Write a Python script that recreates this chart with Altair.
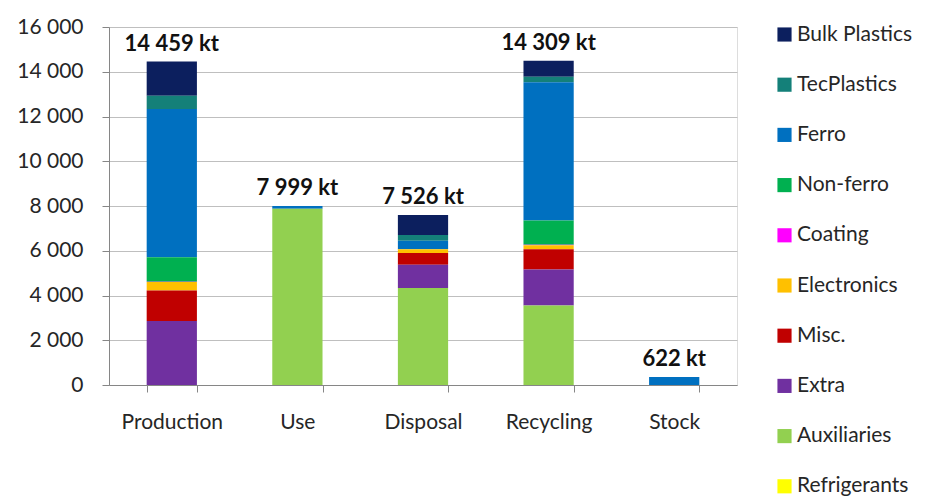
import altair as alt
import pandas as pd

categories = ["Production", "Use", "Disposal", "Recycling", "Stock"]
total_labels = ["14 459 kt", "7 999 kt", "7 526 kt", "14 309 kt", "622 kt"]

materials = ["Bulk Plastics", "TecPlastics", "Ferro", "Non-ferro", "Coating",
             "Electronics", "Misc.", "Extra", "Auxiliaries", "Refrigerants"]
colors = ["#0c1f5e", "#148079", "#0070c0", "#00b050", "#ff00ff",
          "#ffc000", "#c00000", "#7030a0", "#92d050", "#ffff00"]

# values per material for Production, Use, Disposal, Recycling, Stock (kt)
bulk_plastics = [1530, 0, 890, 710, 0]
tec_plastics = [595, 0, 254, 250, 0]
ferro = [6620, 119, 380, 6185, 360]
non_ferro = [1090, 0, 0, 1080, 0]
coating = [20, 0, 0, 20, 0]
electronics = [380, 0, 170, 176, 0]
misc = [1357, 0, 522, 911, 0]
extra = [2863, 0, 1048, 1609, 0]
auxiliaries = [0, 7880, 4330, 3551, 0]
refrigerants = [0, 0, 0, 0, 0]

series = [bulk_plastics, tec_plastics, ferro, non_ferro, coating,
          electronics, misc, extra, auxiliaries, refrigerants]

rows = []
for mi, (m, vals) in enumerate(zip(materials, series)):
    for c, v in zip(categories, vals):
        rows.append({"category": c, "material": m, "value": v,
                     "stack_order": len(materials) - mi})
df = pd.DataFrame(rows)

tot = df.groupby("category", sort=False)["value"].sum().reindex(categories)
df_tot = pd.DataFrame({"category": categories, "total": tot.values,
                       "label": total_labels})

FONT = "Lato"

x_enc = alt.X("category:N", sort=categories, title=None,
              scale=alt.Scale(paddingInner=0.6, paddingOuter=0.3),
              axis=alt.Axis(labelAngle=0, labelFontSize=21, labelColor="#262626",
                            labelFont=FONT, tickBand="extent", tickSize=7,
                            tickColor="#868686", domainColor="#868686",
                            labelPadding=19, grid=False))

bars = alt.Chart(df).mark_bar().encode(
    x=x_enc,
    y=alt.Y("sum(value):Q", title=None,
            scale=alt.Scale(domain=[0, 16000], nice=False),
            axis=alt.Axis(values=list(range(0, 16001, 2000)),
                          labelExpr="replace(format(datum.value, ','), ',', ' ')",
                          labelFontSize=21, labelColor="#262626", labelFont=FONT,
                          tickSize=7, tickColor="#868686", domainColor="#868686",
                          labelPadding=19, gridColor="#bfbfbf", gridWidth=1)),
    color=alt.Color("material:N",
                    scale=alt.Scale(domain=materials, range=colors),
                    legend=alt.Legend(title=None, orient="none", legendX=665,
                                      legendY=-3, symbolType="square",
                                      symbolSize=200, symbolStrokeWidth=0,
                                      labelFontSize=21, labelFont=FONT,
                                      labelColor="#262626", rowPadding=28.2,
                                      labelOffset=2)),
    order=alt.Order("stack_order:Q", sort="ascending"),
)

texts = alt.Chart(df_tot).mark_text(
    baseline="bottom", dy=-6, fontSize=22, fontWeight="bold", font=FONT,
    color="#111111"
).encode(
    x=alt.X("category:N", sort=categories),
    y=alt.Y("total:Q"),
    text="label:N",
)

chart = alt.layer(bars, texts).properties(
    width=628, height=358,
    autosize=alt.AutoSizeParams(type="none"),
    padding={"left": 109, "top": 27, "right": 198, "bottom": 112},
).configure_view(stroke=None).configure(background="white")

chart.save("out.html", embed_options={"renderer": "svg", "actions": False})
